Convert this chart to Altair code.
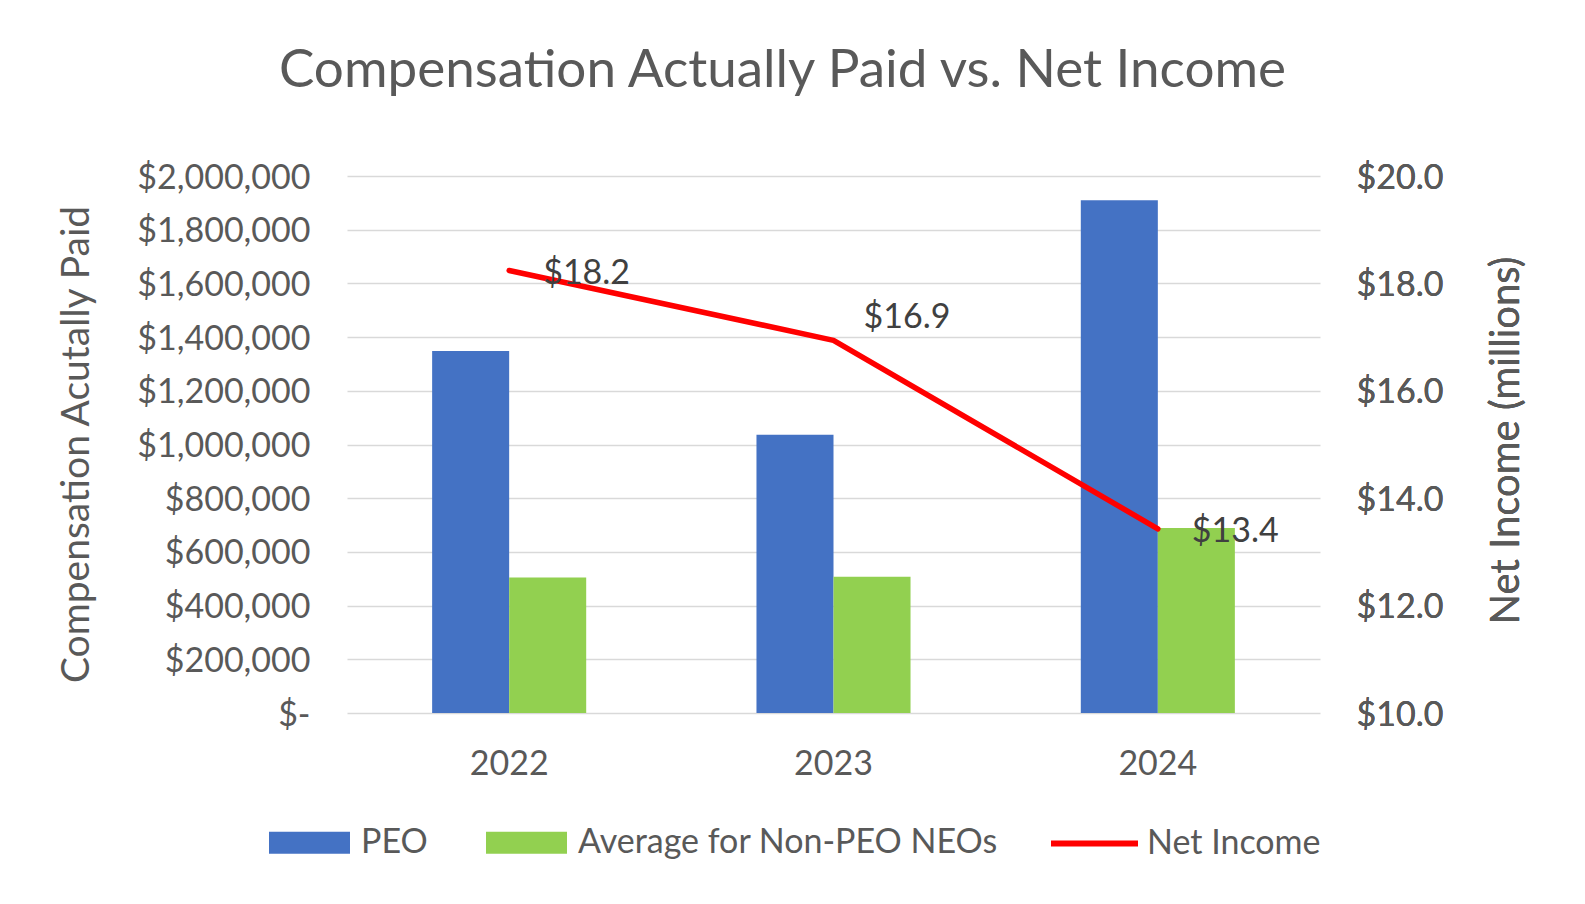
import altair as alt
import pandas as pd

# ---- data ----
years = ["2022", "2023", "2024"]
peo = [1348000, 1036000, 1910000]
non_peo_avg = [505000, 507000, 689000]
net_income = [18.24, 16.94, 13.43]
bar_series = ["PEO", "Average for Non-PEO NEOs"]
line_series = "Net Income"
left_ticks = [0, 200000, 400000, 600000, 800000, 1000000, 1200000, 1400000,
              1600000, 1800000, 2000000]
right_ticks = [10, 12, 14, 16, 18, 20]

bars_df = pd.DataFrame({
    "year": years * 2,
    "series": [bar_series[0]] * 3 + [bar_series[1]] * 3,
    "value": peo + non_peo_avg,
})
line_df = pd.DataFrame({
    "year": years,
    "series": [line_series] * 3,
    "ni": net_income,
    "label": ["$" + f"{v:.1f}" for v in net_income],
})

FONT = "Lato"
GREY = "#595959"
W, H = 973, 537

x_enc = alt.X(
    "year:N", sort=years,
    scale=alt.Scale(paddingInner=0.525, paddingOuter=0.2625),
    axis=alt.Axis(title=None, labelAngle=0, domain=False, ticks=False,
                  grid=False, labelPadding=34, labelFontSize=34,
                  labelColor=GREY, labelFont=FONT),
)

bars = alt.Chart(bars_df).mark_bar().encode(
    x=x_enc,
    xOffset=alt.XOffset("series:N", sort=bar_series,
                        scale=alt.Scale(paddingInner=0, paddingOuter=0)),
    y=alt.Y(
        "value:Q",
        scale=alt.Scale(domain=[0, 2000000], nice=False),
        axis=alt.Axis(
            values=left_ticks, grid=True, gridColor="#D9D9D9", gridWidth=1.5,
            domain=False, ticks=False, tickSize=0, labelPadding=37,
            labelFontSize=34, labelColor=GREY, labelFont=FONT,
            labelBaseline="alphabetic", labelOffset=12,
            labelExpr="datum.value == 0 ? '$-\u00a0\u00a0\u00a0\u00a0' : '$' + format(datum.value, ',.0f')",
            title="Compensation Acutally Paid", titleFontSize=39,
            titleFont=FONT, titleColor=GREY, titleFontWeight="normal",
            titleAngle=270, titleAlign="center", titleBaseline="middle",
            titleX=-271, titleY=268,
        ),
    ),
    color=alt.Color(
        "series:N", sort=bar_series,
        scale=alt.Scale(domain=bar_series, range=["#4472C4", "#92D050"]),
        legend=alt.Legend(
            title=None, orient="none", direction="horizontal",
            legendX=-78, legendY=626,
            symbolType="M-1,-0.272H1V0.272H-1Z", symbolSize=6561,
            symbolStrokeWidth=0, symbolOpacity=1,
            labelFontSize=34, labelColor=GREY, labelFont=FONT,
            labelOffset=11, columnPadding=58, padding=0, labelLimit=800,
        ),
    ),
)

line_base = alt.Chart(line_df).encode(
    x=alt.X("year:N", sort=years),
    y=alt.Y(
        "ni:Q",
        scale=alt.Scale(domain=[10, 20], nice=False),
        axis=alt.Axis(
            orient="right", values=right_ticks, grid=False, domain=False,
            ticks=False, tickSize=0, labelPadding=36, labelFontSize=34,
            labelColor=GREY, labelFont=FONT, labelBaseline="alphabetic",
            labelOffset=12, format="$.1f",
            title="Net Income (millions)", titleFontSize=40, titleFont=FONT,
            titleColor=GREY, titleFontWeight="normal", titleAngle=270,
            titleAlign="center", titleBaseline="middle",
            titleX=186, titleY=264,
        ),
    ),
)

line = line_base.mark_line(strokeWidth=5.5, strokeCap="round",
                           strokeJoin="round").encode(
    stroke=alt.Stroke(
        "series:N",
        scale=alt.Scale(domain=[line_series], range=["#FF0000"]),
        legend=alt.Legend(
            title=None, orient="none", direction="horizontal",
            legendX=701, legendY=621,
            symbolType="stroke", symbolSize=7569, symbolStrokeWidth=6,
            labelFontSize=34, labelColor=GREY, labelFont=FONT,
            labelOffset=6, padding=0, labelLimit=800,
        ),
    ),
)

labels_side = line_base.mark_text(
    align="left", baseline="middle", dx=34, dy=3, fontSize=34,
    font=FONT, color="#404040",
).encode(text="label:N").transform_filter(alt.datum.year != "2023")

labels_up = line_base.mark_text(
    align="left", baseline="middle", dx=30, dy=-22, fontSize=34,
    font=FONT, color="#404040",
).encode(text="label:N").transform_filter(alt.datum.year == "2023")

chart = alt.layer(bars, line, labels_side, labels_up).resolve_scale(
    y="independent"
).properties(
    width=W, height=H,
    autosize=alt.AutoSizeParams(type="none"),
    padding={"left": 339, "top": 168, "right": 250, "bottom": 170},
    background="white",
    title=alt.TitleParams(
        "Compensation Actually Paid vs. Net Income",
        fontSize=53, font=FONT, color=GREY, fontWeight="normal",
        anchor="middle", frame="group", dx=-51, offset=21,
        baseline="alphabetic",
    ),
).configure_view(stroke=None)

chart.save("out.html", embed_options={"renderer": "svg", "actions": False})
